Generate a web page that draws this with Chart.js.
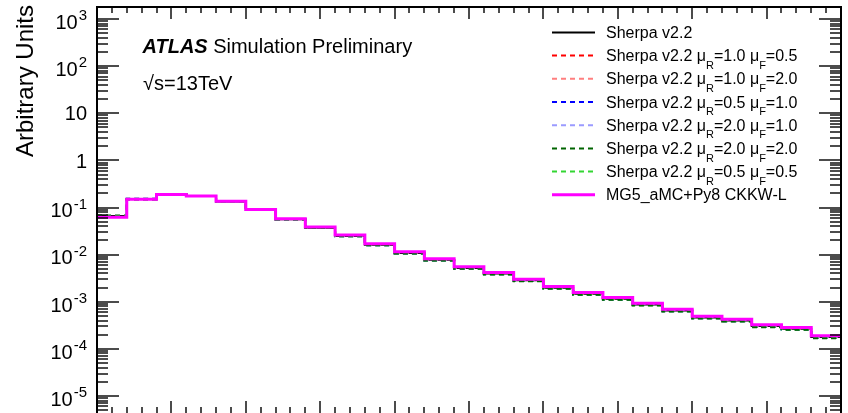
<!DOCTYPE html>
<html>
<head>
<meta charset="utf-8">
<script src="https://cdn.jsdelivr.net/npm/chart.js@4/dist/chart.umd.min.js"></script>
<style>
  html, body { margin: 0; padding: 0; background: #ffffff; overflow: hidden; }
  #wrap { position: relative; width: 848px; height: 413px; }
  #c, #ov { position: absolute; left: 0; top: 0; }
  #ov { pointer-events: none; }
</style>
</head>
<body>
<div id="wrap"><canvas id="c" width="848" height="413"></canvas><canvas id="ov" width="848" height="413"></canvas></div>
<script>
// ---- data ----
const binEdges = [0, 40, 80, 120, 160, 200, 240, 280, 320, 360, 400, 440, 480, 520, 560, 600, 640, 680, 720, 760, 800, 840, 880, 920, 960, 1000];

const sherpaNominal = [0.0660, 0.151, 0.192, 0.176, 0.134, 0.0895, 0.0562, 0.0372, 0.0250, 0.0162, 0.0109, 0.00775, 0.00522, 0.00396, 0.00285, 0.00199, 0.00148, 0.00116, 0.000880, 0.000655, 0.000466, 0.000402, 0.000305, 0.000268, 0.000178];
const sherpaR10F05 = [0.0668, 0.152, 0.192, 0.175, 0.133, 0.0890, 0.0560, 0.0370, 0.0249, 0.0161, 0.0108, 0.00770, 0.00519, 0.00393, 0.00283, 0.00197, 0.00147, 0.00115, 0.000873, 0.000650, 0.000462, 0.000398, 0.000302, 0.000265, 0.000176];
const sherpaR10F20 = [0.0652, 0.150, 0.191, 0.176, 0.135, 0.0900, 0.0565, 0.0375, 0.0252, 0.0164, 0.0110, 0.00780, 0.00526, 0.00399, 0.00288, 0.00201, 0.00150, 0.00117, 0.000887, 0.000661, 0.000470, 0.000405, 0.000308, 0.000270, 0.000180];
const sherpaR05F10 = [0.0672, 0.153, 0.193, 0.176, 0.134, 0.0893, 0.0558, 0.0368, 0.0246, 0.0159, 0.0106, 0.00755, 0.00508, 0.00385, 0.00277, 0.00193, 0.00143, 0.00112, 0.000850, 0.000632, 0.000449, 0.000387, 0.000293, 0.000258, 0.000171];
const sherpaR20F10 = [0.0650, 0.149, 0.190, 0.176, 0.136, 0.0905, 0.0570, 0.0378, 0.0255, 0.0166, 0.0112, 0.00793, 0.00535, 0.00406, 0.00292, 0.00204, 0.00152, 0.00119, 0.000900, 0.000671, 0.000477, 0.000411, 0.000312, 0.000274, 0.000182];
const sherpaR20F20 = [0.0645, 0.148, 0.190, 0.176, 0.135, 0.0898, 0.0562, 0.0368, 0.0246, 0.0159, 0.0106, 0.00752, 0.00503, 0.00381, 0.00273, 0.00190, 0.00141, 0.00110, 0.000838, 0.000624, 0.000442, 0.000381, 0.000289, 0.000254, 0.000168];
const sherpaR05F05 = [0.0675, 0.153, 0.193, 0.175, 0.133, 0.0888, 0.0556, 0.0366, 0.0245, 0.0158, 0.0106, 0.00752, 0.00506, 0.00383, 0.00276, 0.00192, 0.00143, 0.00112, 0.000848, 0.000630, 0.000448, 0.000386, 0.000292, 0.000257, 0.000171];
const mg5Py8 = [0.0625, 0.149, 0.190, 0.175, 0.135, 0.0910, 0.0575, 0.0384, 0.0260, 0.0170, 0.01145, 0.00814, 0.00551, 0.00419, 0.00302, 0.00211, 0.00157, 0.00123, 0.000933, 0.000697, 0.000495, 0.000427, 0.000324, 0.000285, 0.000189];

// '_{..}' marks a subscript in the legend text
const seriesNames = [
  'Sherpa v2.2',
  'Sherpa v2.2 \u03bc_{R}=1.0 \u03bc_{F}=0.5',
  'Sherpa v2.2 \u03bc_{R}=1.0 \u03bc_{F}=2.0',
  'Sherpa v2.2 \u03bc_{R}=0.5 \u03bc_{F}=1.0',
  'Sherpa v2.2 \u03bc_{R}=2.0 \u03bc_{F}=1.0',
  'Sherpa v2.2 \u03bc_{R}=2.0 \u03bc_{F}=2.0',
  'Sherpa v2.2 \u03bc_{R}=0.5 \u03bc_{F}=0.5',
  'MG5\u200baMC+Py8 CKKW-L'
];
const seriesValues = [sherpaNominal, sherpaR10F05, sherpaR10F20, sherpaR05F10, sherpaR20F10, sherpaR20F20, sherpaR05F05, mg5Py8];

const yTickValues = [1e3, 1e2, 1e1, 1, 1e-1, 1e-2, 1e-3, 1e-4, 1e-5];
const yTickBase   = ['10', '10', '10', '1', '10', '10', '10', '10', '10'];
const yTickExp    = ['3', '2', '', '', '-1', '-2', '-3', '-4', '-5'];

// ---- styles ----
const seriesColors = ['#000000', '#ff0000', '#ff7f7f', '#0000ff', '#9b9bff', '#006400', '#33d633', '#ff00ff'];
const seriesDash = [[], [5, 4], [5, 4], [5, 4], [5, 4], [5, 4], [5, 4], []];
const seriesWidth = [2, 2, 2, 2, 2, 2, 2, 3];
const seriesOrder = [9, 8, 7, 6, 5, 3, 4, 0];
const FONT = '"Liberation Sans", Arial, Helvetica, "DejaVu Sans", sans-serif';

function histPoints(vals) {
  const pts = vals.map((v, i) => ({ x: binEdges[i], y: v }));
  pts.push({ x: binEdges[binEdges.length - 1], y: vals[vals.length - 1] });
  return pts;
}

const datasets = seriesValues.map((vals, i) => ({
  label: seriesNames[i].replace(/_\{(.*?)\}/g, '$1').replace('\u200b', '_'),
  data: histPoints(vals),
  borderColor: seriesColors[i],
  backgroundColor: seriesColors[i],
  borderWidth: seriesWidth[i],
  borderDash: seriesDash[i],
  stepped: true,
  fill: false,
  pointRadius: 0,
  pointHoverRadius: 0,
  order: seriesOrder[i]
}));

function drawRich(ctx, text, x, y, size) {
  const parts = [];
  const re = /_\{(.*?)\}/g;
  let last = 0, m;
  while ((m = re.exec(text)) !== null) {
    if (m.index > last) parts.push({ t: text.slice(last, m.index), sub: false });
    parts.push({ t: m[1], sub: true });
    last = re.lastIndex;
  }
  if (last < text.length) parts.push({ t: text.slice(last), sub: false });
  let cx = x;
  parts.forEach(p => {
    const t = p.t.replace('\u200b', '_');
    if (p.sub) {
      ctx.font = `${Math.round(size * 0.68)}px ${FONT}`;
      ctx.fillText(t, cx, y + size * 0.48);
    } else {
      ctx.font = `${size}px ${FONT}`;
      ctx.fillText(t, cx, y);
    }
    cx += ctx.measureText(t).width;
  });
}

// frame + inward ticks, drawn from the chart's own scales
function drawFrame(ctx, chart) {
  const a = chart.chartArea;
  const xs = chart.scales.x, ys = chart.scales.y;
  const L = Math.round(a.left), R = Math.round(a.right), T = Math.round(a.top), B = Math.round(a.bottom);
  ctx.save();
  ctx.setLineDash([]);
  ctx.globalAlpha = 1;
  ctx.globalCompositeOperation = 'source-over';
  ctx.fillStyle = '#000000';
  ctx.fillRect(L - 1, T - 1, 2, B - T + 4);
  ctx.fillRect(R - 1, T - 1, 2, B - T + 4);
  ctx.fillRect(L - 1, T - 1, R - L + 2, 2);
  for (let v = 20; v < 1000; v += 20) {
    const px = Math.round(xs.getPixelForValue(v));
    const len = (v % 100 === 0) ? 12 : 6;
    ctx.fillRect(px - 0.7, T, 1.4, len);
    ctx.fillRect(px - 0.7, B - len, 1.4, len);
  }
  for (let k = -6; k <= 3; k++) {
    for (let mm = 1; mm <= 9; mm++) {
      const v = mm * Math.pow(10, k);
      if (v < 4.36e-6 || v > 1799) continue;
      const py = Math.round(ys.getPixelForValue(v));
      const len = (mm === 1) ? 22 : 11;
      ctx.fillRect(L, py - 0.7, len, 1.4);
      ctx.fillRect(R - len, py - 0.7, len, 1.4);
    }
  }
  ctx.restore();
}

const textPlugin = {
  id: 'texts',
  afterDraw(chart) {
    const ctx = chart.ctx;
    const a = chart.chartArea;
    const ys = chart.scales.y;
    const L = Math.round(a.left);
    ctx.save();
    ctx.setLineDash([]);
    ctx.fillStyle = '#000000';
    ctx.textBaseline = 'alphabetic';
    ctx.textAlign = 'left';

    // y tick labels
    const labelRight = L - 10;
    yTickValues.forEach((v, i) => {
      const py = ys.getPixelForValue(v);
      const base = yTickBase[i], ex = yTickExp[i];
      ctx.font = `20px ${FONT}`;
      const wb = ctx.measureText(base).width;
      ctx.font = `15px ${FONT}`;
      const we = ex ? ctx.measureText(ex).width + 1 : 0;
      const x0 = labelRight - wb - we;
      const baseY = ex ? py + 9.8 : py + 7.2;
      ctx.font = `20px ${FONT}`;
      ctx.fillText(base, x0, baseY);
      if (ex) {
        ctx.font = `15px ${FONT}`;
        ctx.fillText(ex, x0 + wb + 1, baseY - 8.6);
      }
    });

    // y axis title
    ctx.save();
    ctx.translate(33, 5);
    ctx.rotate(-Math.PI / 2);
    ctx.textAlign = 'right';
    ctx.font = `24px ${FONT}`;
    ctx.fillText('Arbitrary Units', 0, 0);
    ctx.restore();

    // ATLAS label
    ctx.textAlign = 'left';
    ctx.font = `italic bold 20px ${FONT}`;
    ctx.fillText('ATLAS', 142.5, 52.5);
    const wA = ctx.measureText('ATLAS').width;
    ctx.font = `20px ${FONT}`;
    ctx.fillText('Simulation Preliminary', 142.5 + wA + 5.5, 52.5);
    ctx.fillText('\u221as=13TeV', 143, 90);

    // legend
    const lx0 = 552, lx1 = 595, tx = 606;
    seriesNames.forEach((name, i) => {
      const yc = 32.4 + 23.2 * i;
      ctx.save();
      ctx.strokeStyle = seriesColors[i];
      ctx.lineWidth = seriesWidth[i];
      ctx.setLineDash(seriesDash[i]);
      ctx.beginPath();
      ctx.moveTo(lx0, yc); ctx.lineTo(lx1, yc);
      ctx.stroke();
      ctx.restore();
      ctx.fillStyle = '#000000';
      drawRich(ctx, name, tx, yc + 5.5, 16);
    });
    ctx.restore();
  }
};

const overlayCanvas = document.getElementById('ov');
const framePlugin = {
  id: 'frame',
  afterRender(chart) {
    const octx = overlayCanvas.getContext('2d');
    octx.clearRect(0, 0, overlayCanvas.width, overlayCanvas.height);
    drawFrame(octx, chart);
  }
};

new Chart(document.getElementById('c'), {
  type: 'line',
  data: { datasets },
  options: {
    responsive: false,
    animation: false,
    events: [],
    layout: { padding: { left: 97, right: 7, top: 7, bottom: 0 } },
    plugins: { legend: { display: false }, tooltip: { enabled: false } },
    scales: {
      x: { type: 'linear', min: 0, max: 1000, display: false },
      y: { type: 'logarithmic', min: 4.36e-6, max: 1799, display: false }
    }
  },
  plugins: [textPlugin, framePlugin]
});
</script>
</body>
</html>
